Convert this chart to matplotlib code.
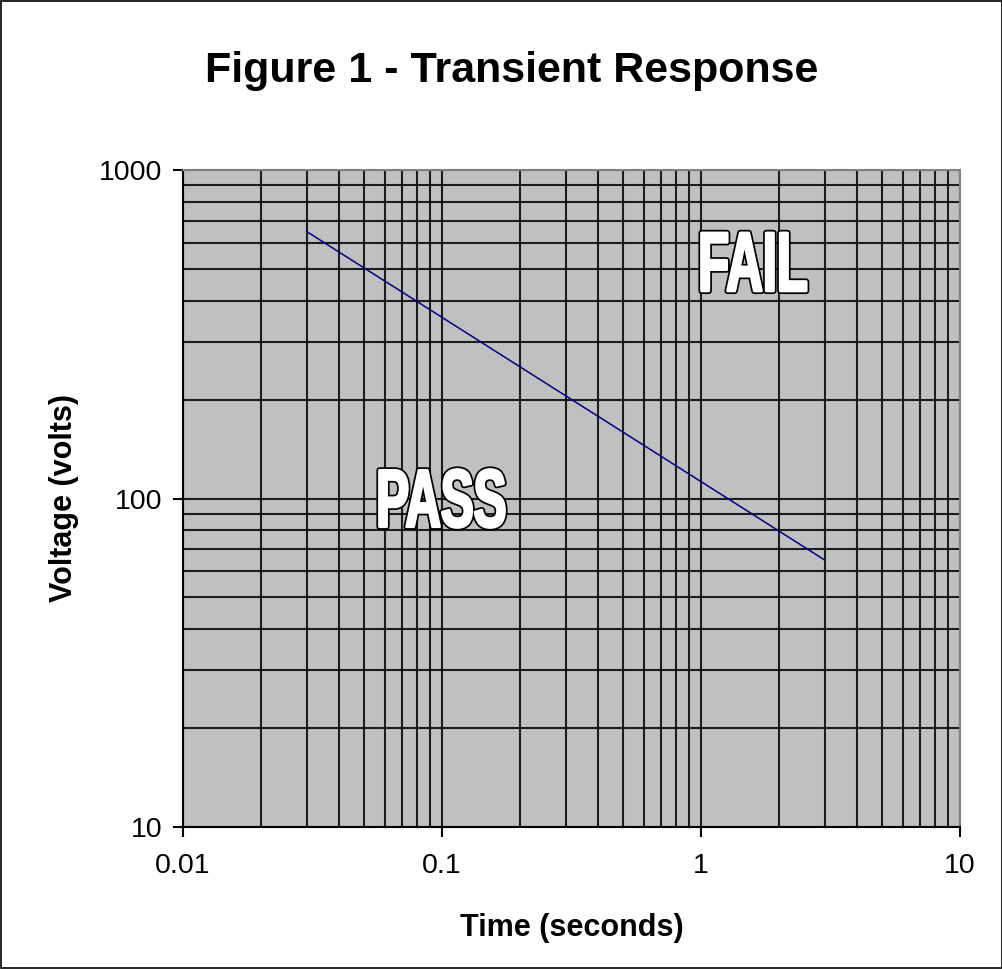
import matplotlib
matplotlib.use("Agg")
from matplotlib import pyplot as plt
from matplotlib.font_manager import FontProperties
from matplotlib.patches import PathPatch
from matplotlib.textpath import TextPath
from matplotlib.transforms import Affine2D, ScaledTranslation
from matplotlib.ticker import LogLocator, NullFormatter, FixedLocator, FixedFormatter

# limit line
time_s = [0.03, 3.0]
voltage_v = [650, 65]

x_ticks = [0.01, 0.1, 1, 10]
x_labels = ["0.01", "0.1", "1", "10"]
y_ticks = [10, 100, 1000]
y_labels = ["10", "100", "1000"]

# region labels: text, centre (time, voltage)
region_names = ["PASS", "FAIL"]
region_time = [0.1, 1.6]
region_volt = [100, 525]

plt.rcParams['font.family'] = ['Liberation Sans', 'DejaVu Sans']

fig = plt.figure(figsize=(10.03, 9.69), dpi=100)
fig.patch.set_facecolor("white")
fig.patches.append(plt.Rectangle((0.001, 0.001), 0.998, 0.998, transform=fig.transFigure,
                                 fill=False, edgecolor="black", linewidth=1.2))

ax = fig.add_axes([183 / 1003, 1 - 827 / 969, (960 - 183) / 1003, (827 - 170) / 969])
ax.set_facecolor("#C0C0C0")
ax.set_xscale("log")
ax.set_yscale("log")
ax.set_xlim(0.01, 10)
ax.set_ylim(10, 1000)

ax.plot(time_s, voltage_v, color="#000080", linewidth=1.1, zorder=3)

ax.xaxis.set_major_locator(FixedLocator(x_ticks))
ax.xaxis.set_major_formatter(FixedFormatter(x_labels))
ax.yaxis.set_major_locator(FixedLocator(y_ticks))
ax.yaxis.set_major_formatter(FixedFormatter(y_labels))
ax.xaxis.set_minor_locator(LogLocator(base=10, subs=range(2, 10)))
ax.yaxis.set_minor_locator(LogLocator(base=10, subs=range(2, 10)))
ax.xaxis.set_minor_formatter(NullFormatter())
ax.yaxis.set_minor_formatter(NullFormatter())

ax.grid(True, which="both", color="black", linewidth=1.5, alpha=0.85)
ax.set_axisbelow(True)
ax.tick_params(axis="both", which="major", direction="out", length=7, width=1.5,
               labelsize=20.5)
ax.tick_params(axis="x", which="major", pad=12)
ax.tick_params(axis="y", which="major", pad=8)
ax.tick_params(axis="both", which="minor", length=0)

for side in ["top", "right"]:
    ax.spines[side].set_color("#808080")
    ax.spines[side].set_linewidth(1.5)
for side in ["left", "bottom"]:
    ax.spines[side].set_color("black")
    ax.spines[side].set_linewidth(1.5)

ax.set_xlabel("Time (seconds)", fontsize=22, fontweight="bold", labelpad=24)
ax.set_ylabel("Voltage (volts)", fontsize=22, fontweight="bold", labelpad=14)
fig.text(512 / 1003, 1 - 71 / 969, "Figure 1 - Transient Response", ha="center", va="center",
         fontsize=31, fontweight="bold")

# condensed, heavy outlined lettering: squeeze a bold text path sideways
bold = FontProperties(family="Liberation Sans", weight="bold")
for name, t, v in zip(region_names, region_time, region_volt):
    path = TextPath((0, 0), name, size=1, prop=bold)
    ext = path.get_extents()
    h = 58 / ext.height
    shape = Affine2D().translate(-(ext.x0 + ext.x1) / 2, -(ext.y0 + ext.y1) / 2).scale(0.6 * h, h)
    place = ScaledTranslation(t, v, ax.transData)
    ax.add_patch(PathPatch(path, transform=shape + place, facecolor="black",
                           edgecolor="black", linewidth=4.5, joinstyle="round", zorder=4))
    ax.add_patch(PathPatch(path, transform=shape + place, facecolor="white",
                           edgecolor="white", linewidth=2, joinstyle="round", zorder=5))

plt.savefig("out.png", dpi=100)
